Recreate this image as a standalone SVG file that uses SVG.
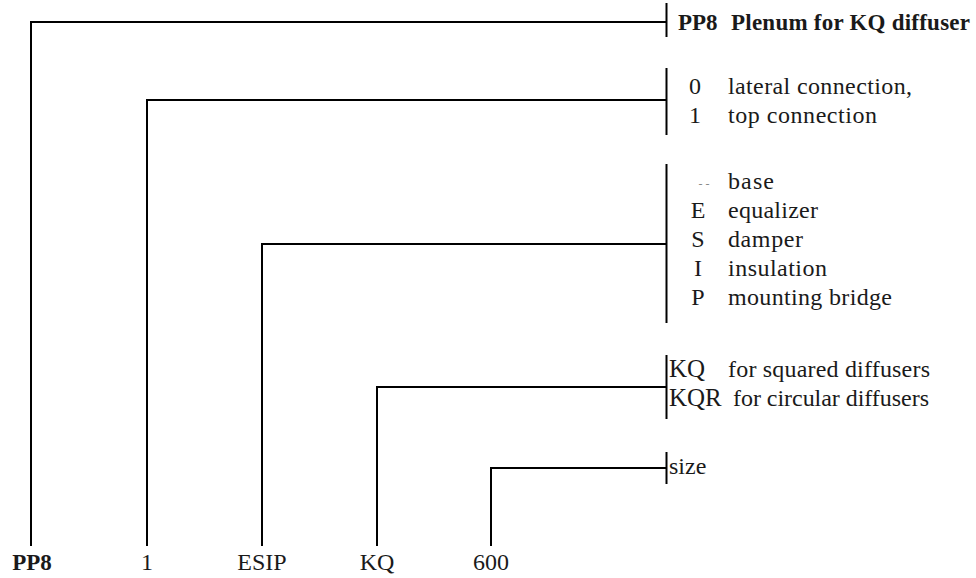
<svg xmlns="http://www.w3.org/2000/svg" width="976" height="578" viewBox="0 0 976 578">
<style>
.t text{font-size:24px;fill:#1a1a1a}
.t .b{font-weight:bold;font-size:23px}
.m{text-anchor:middle}
.ln{fill:none;stroke:#000;stroke-width:2}
.t .dash{font-size:12px;fill:#888}
.t .kq{font-size:25px}
</style>
<rect width="976" height="578" fill="#fff"/>
<g id="connectors">
<path class="ln" d="M31,546 V22 H666"/>
<path class="ln" d="M147,546 V100 H666"/>
<path class="ln" d="M262,546 V244 H666"/>
<path class="ln" d="M377,546 V387 H666"/>
<path class="ln" d="M491,546 V468 H666"/>
<path class="ln" d="M666.5,3 V37"/>
<path class="ln" d="M666.5,68 V135"/>
<path class="ln" d="M666.5,164 V323"/>
<path class="ln" d="M666.5,355 V419"/>
<path class="ln" d="M666.5,452 V484"/>
</g>
<g class="t" font-family="Liberation Serif, Times New Roman, serif">
<g id="code-pp8">
<text class="b m" x="32" y="570">PP8</text>
</g>
<g id="code-1">
<text class="m" x="147" y="570">1</text>
</g>
<g id="code-esip">
<text class="m" x="262" y="570">ESIP</text>
</g>
<g id="code-kq">
<text class="m" x="377" y="570">KQ</text>
</g>
<g id="code-600">
<text class="m" x="491" y="570">600</text>
</g>
<g id="legend-pp8">
<text class="b" x="678" y="30">PP8</text>
<text class="b" x="731" y="30" textLength="239">Plenum for KQ diffuser</text>
</g>
<g id="legend-connection">
<text class="m" x="695" y="94">0</text>
<text x="728" y="94" textLength="184">lateral connection,</text>
<text class="m" x="695" y="123">1</text>
<text x="728" y="123" textLength="149">top connection</text>
</g>
<g id="legend-options">
<text class="m dash" x="704" y="188">- -</text>
<text x="728" y="189" textLength="46">base</text>
<text class="m" x="698" y="218">E</text>
<text x="728" y="218" textLength="90">equalizer</text>
<text class="m" x="698" y="247">S</text>
<text x="728" y="247" textLength="75">damper</text>
<text class="m" x="698" y="276">I</text>
<text x="728" y="276" textLength="99">insulation</text>
<text class="m" x="698" y="305">P</text>
<text x="728" y="305" textLength="164">mounting bridge</text>
</g>
<g id="legend-type">
<text class="kq" x="669" y="377">KQ</text>
<text x="728" y="377" textLength="202">for squared diffusers</text>
<text class="kq" x="669" y="406">KQR</text>
<text x="733" y="406" textLength="196">for circular diffusers</text>
</g>
<g id="legend-size">
<text x="669" y="474">size</text>
</g>
</g>
</svg>
